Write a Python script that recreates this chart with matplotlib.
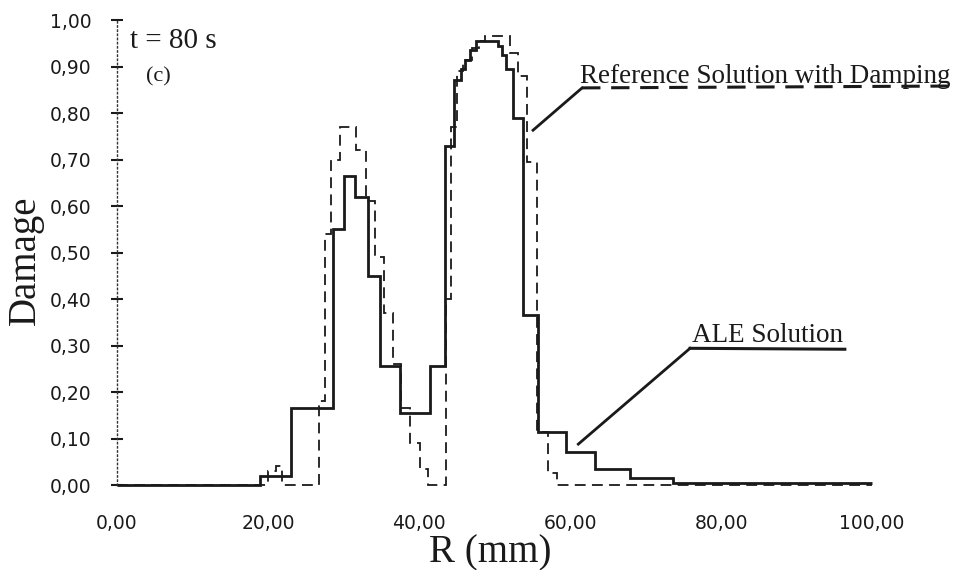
import matplotlib
matplotlib.use('Agg')
import matplotlib.pyplot as plt

# ---- data ----
# ALE solution (solid staircase): bin edges in mm and damage per bin
r_ale_edges = [0, 19.0, 23.1, 28.6, 30.0, 31.5, 33.3, 34.8, 37.5, 41.4, 43.5,
               44.6, 45.6, 46.1, 46.8, 47.5, 50.5, 51.0, 51.5, 52.4, 53.8,
               55.8, 59.5, 63.3, 67.9, 73.6, 100]
damage_ale = [0, 0.02, 0.165, 0.55, 0.665, 0.62, 0.45, 0.255, 0.155, 0.255,
              0.73, 0.87, 0.895, 0.915, 0.935, 0.955, 0.945, 0.925, 0.895, 0.79,
              0.365, 0.115, 0.07, 0.035, 0.015, 0.005]

# Reference solution with damping (dashed staircase)
r_ref_edges = [0, 20.0, 21.1, 21.8, 26.8, 27.5, 28.4, 29.5, 31.7, 33.0,
               34.2, 35.4, 36.6, 37.6, 38.8, 40.1, 41.2, 43.6, 44.3, 45.0,
               45.8, 47.0, 48.0, 48.7, 52.0, 53.1, 54.3, 55.6, 57.1, 58.3, 100]
damage_ref = [0, 0.03, 0.04, 0, 0.18, 0.54, 0.70, 0.77, 0.72, 0.61,
              0.49, 0.37, 0.26, 0.165, 0.09, 0.035, 0, 0.40, 0.77, 0.89,
              0.915, 0.94, 0.955, 0.965, 0.93, 0.88, 0.695, 0.115, 0.025, 0]

x_ticks = [0, 20, 40, 60, 80, 100]
x_tick_labels = ['0,00', '20,00', '40,00', '60,00', '80,00', '100,00']
y_ticks = [0.0, 0.1, 0.2, 0.3, 0.4, 0.5, 0.6, 0.7, 0.8, 0.9, 1.0]
y_tick_labels = ['0,00', '0,10', '0,20', '0,30', '0,40', '0,50',
                 '0,60', '0,70', '0,80', '0,90', '1,00']

INK = '#1a1a1a'
SERIF = ['Liberation Serif', 'DejaVu Serif']
SANS = ['DejaVu Sans']

fig = plt.figure(figsize=(9.57, 5.70), dpi=100)
fig.patch.set_facecolor('white')
ax = fig.add_axes([0.1223, 0.1491, 0.7889, 0.8158])

ax.stairs(damage_ale, r_ale_edges, baseline=None, color=INK, lw=2.0,
          clip_on=False, zorder=3)
ax.stairs(damage_ref, r_ref_edges, baseline=None, color=INK, lw=1.3,
          linestyle=(0, (6, 3.5)), clip_on=False, zorder=2)

ax.set_xlim(0, 100)
ax.set_ylim(0, 1)

for s in ['top', 'right', 'bottom']:
    ax.spines[s].set_visible(False)
ax.spines['left'].set_linestyle((0, (1, 2)))
ax.spines['left'].set_linewidth(1.0)
ax.spines['left'].set_color('#333333')

ax.set_xticks(x_ticks)
ax.set_xticklabels(x_tick_labels, family=SANS, fontsize=13.5, color=INK)
ax.set_yticks(y_ticks)
ax.set_yticklabels(y_tick_labels, family=SANS, fontsize=13.5, color=INK)
ax.tick_params(axis='x', length=0, pad=21)
ax.tick_params(axis='y', direction='inout', length=9, width=1.5, color=INK, pad=14)

ax.set_xlabel('R (mm)', family=SERIF, fontsize=28, color=INK)
ax.xaxis.set_label_coords(0.494, -0.146)
ax.xaxis.label.set_va('center')
ax.set_ylabel('Damage', family=SERIF, fontsize=28, color=INK)
ax.yaxis.set_label_coords(-0.122, 0.484)
ax.yaxis.label.set_va('center')

# annotations
ax.text(1.72, 0.939, 't = 80 s', family=SERIF, fontsize=21, color=INK,
        ha='left', va='baseline')
ax.text(3.84, 0.867, '(c)', family=SERIF, fontsize=16, color=INK,
        ha='left', va='baseline')

ax.text(61.3, 0.865, 'Reference Solution with Damping', family=SERIF,
        fontsize=19.5, color=INK, ha='left', va='baseline', clip_on=False)
ax.plot([61.6, 110.6], [0.854, 0.858], color=INK, lw=2.2,
        linestyle=(0, (6, 3.5)), clip_on=False)
ax.plot([61.6, 55.1], [0.854, 0.763], color=INK, lw=2.0, clip_on=False)

ax.text(76.1, 0.308, 'ALE Solution', family=SERIF, fontsize=19.5,
        color=INK, ha='left', va='baseline', clip_on=False)
ax.plot([75.9, 96.4], [0.294, 0.292], color=INK, lw=2.2, clip_on=False)
ax.plot([75.9, 61.1], [0.294, 0.088], color=INK, lw=2.0, clip_on=False)

fig.savefig('out.png', dpi=100, facecolor='white')
